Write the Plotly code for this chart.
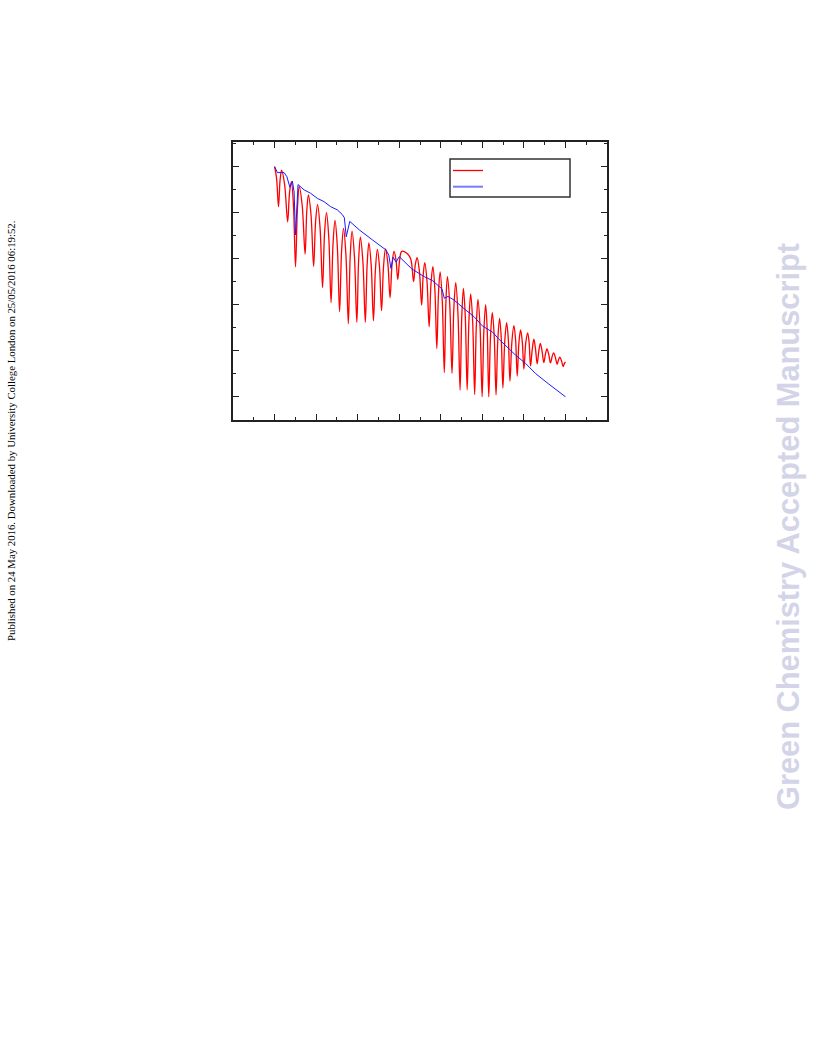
import plotly.graph_objects as go

# ---- data ----
red_x = [0, 0.095, 0.19, 0.265, 0.34, 0.485, 0.63, 0.72, 0.81, 0.91, 1.01, 1.10, 1.19, 1.33,
         1.47, 1.55, 1.63, 1.755, 1.88, 1.975, 2.07, 2.19, 2.31, 2.405, 2.5, 2.61, 2.72, 2.815,
         2.91, 3.02, 3.13, 3.225, 3.32, 3.435, 3.55, 3.64, 3.73, 3.845, 3.96, 4.045, 4.13, 4.25,
         4.37, 4.455, 4.54, 4.65, 4.76, 4.855, 4.95, 5.05, 5.15, 5.245, 5.34, 5.45, 5.56, 5.655,
         5.75, 5.84, 5.93, 6.025, 6.12, 6.35, 6.55, 6.69, 6.775, 6.86, 6.97, 7.08, 7.155, 7.23,
         7.335, 7.44, 7.53, 7.62, 7.715, 7.81, 7.89, 7.97, 8.07, 8.17, 8.245, 8.32, 8.43, 8.54,
         8.63, 8.72, 8.825, 8.93, 9.01, 9.09, 9.18, 9.27, 9.355, 9.44, 9.535, 9.63, 9.71, 9.79,
         9.89, 9.99, 10.075, 10.16, 10.235, 10.31, 10.395, 10.48, 10.57, 10.66, 10.745, 10.83,
         10.91, 10.99, 11.08, 11.17, 11.25, 11.33, 11.425, 11.52, 11.6, 11.68, 11.76, 11.84,
         11.92, 12.0, 12.09, 12.18, 12.25, 12.32, 12.4, 12.48, 12.56, 12.64, 12.715, 12.79,
         12.875, 12.96, 13.035, 13.11, 13.195, 13.28, 13.355, 13.43, 13.515, 13.6, 13.665,
         13.73, 13.81, 13.89, 13.945, 14.0]
red_y = [10, 9.51, 8.26, 9.40, 9.85, 9.22, 7.6, 8.86, 9.35, 8.31, 5.65, 8.16, 9.13, 8.31,
         6.2, 8.05, 8.77, 7.90, 5.66, 7.60, 8.35, 7.34, 4.75, 7.09, 8.0, 6.91, 4.09, 6.66,
         7.66, 6.55, 3.7, 6.31, 7.32, 6.16, 3.17, 6.07, 7.2, 6.09, 3.24, 5.90, 6.94, 5.90,
         3.24, 5.72, 6.69, 5.74, 3.3, 5.53, 6.4, 5.66, 3.74, 5.67, 6.42, 5.83, 4.3, 5.75,
         6.32, 5.98, 5.1, 5.98, 6.32, 6.25, 6.0, 5.0, 5.75, 6.04, 5.46, 3.97, 5.31, 5.83,
         5.05, 3.04, 4.92, 5.65, 4.66, 2.1, 4.50, 5.43, 4.20, 1.05, 4.05, 5.22, 4.04, 1.02,
         3.86, 4.96, 3.65, 0.29, 3.47, 4.71, 3.48, 0.3, 3.30, 4.47, 3.25, 0.1, 3.07, 4.23,
         3.05, 0.0, 2.88, 4.0, 2.88, 0.0, 2.63, 3.65, 2.65, 0.08, 2.48, 3.41,
         2.56, 0.38, 2.42, 3.22, 2.51, 0.68, 2.42, 3.09, 2.48, 0.9, 2.34, 2.9,
         2.42, 1.2, 2.34, 2.78, 2.38, 1.34, 2.04, 2.5, 2.07, 1.43, 1.96, 2.32,
         1.98, 1.48, 1.84, 2.08, 1.84, 1.47, 1.73, 1.91, 1.71, 1.41, 1.60,
         1.72, 1.56, 1.31, 1.44, 1.52]

blue_x = [0, 0.14, 0.46, 0.59, 0.74, 0.86, 0.94, 1.01, 1.13, 1.42, 1.74, 2.06, 2.38, 2.7, 3.02,
          3.26, 3.36, 3.45, 3.62, 4.08, 4.72, 5.36, 5.5, 5.6, 5.71, 5.85, 6.0, 6.32, 6.6, 7.2,
          7.6, 8.06, 8.17, 8.35, 8.64, 9.2, 9.6, 10.0, 10.5, 10.8, 11.2, 11.6, 12.08, 12.56,
          13.2, 14.0]
blue_y = [10, 9.74, 9.74, 9.57, 9.1, 9.37, 8.9, 7.03, 9.22, 8.99, 8.84, 8.62, 8.48, 8.26, 8.12,
          7.92, 7.78, 6.95, 7.62, 7.25, 6.81, 6.38, 6.15, 5.58, 6.06, 5.85, 6.09, 5.8, 5.56, 5.22,
          5.05, 4.68, 4.28, 4.36, 4.2, 3.77, 3.48, 3.08, 2.8, 2.5, 2.15, 1.81, 1.45, 1.01,
          0.55, 0.0]

series_names = ["", ""]

side_text = "Published on 24 May 2016. Downloaded by University College London on 25/05/2016 06:19:52."
watermark = "Green Chemistry Accepted Manuscript"

# ---- layout geometry (page body margin removed via post_script) ----
W, H = 816, 1056
L, R, T, B = 233, 607, 142, 420


def px2paper_x(px):
    return (px - L) / (R - L)


def px2paper_y(py):
    return (B - py) / (B - T)


fig = go.Figure()
fig.add_trace(go.Scatter(x=red_x, y=red_y, mode="lines", name=series_names[0], showlegend=False,
                         line=dict(color="#ff0000", width=1.3, shape="spline", smoothing=1.0)))
fig.add_trace(go.Scatter(x=blue_x, y=blue_y, mode="lines", name=series_names[1], showlegend=False,
                         line=dict(color="#1a1aff", width=1.0)))

axis_common = dict(showline=True, linecolor="#222222", linewidth=1.5, mirror="ticks",
                   ticks="inside", ticklen=6, tickwidth=1, tickcolor="#222222",
                   showticklabels=False, showgrid=False, zeroline=False)

fig.update_xaxes(range=[-2, 16], tick0=0, dtick=2,
                 minor=dict(dtick=1, ticks="inside", ticklen=3, tickcolor="#222222", showgrid=False),
                 **axis_common)
fig.update_yaxes(range=[-1.01, 11.07], tick0=0, dtick=2,
                 minor=dict(dtick=1, ticks="inside", ticklen=3, tickcolor="#222222", showgrid=False),
                 **axis_common)

# legend box drawn as shapes (entries carry no text in the reference)
legend_shapes = [
    dict(type="rect", xref="paper", yref="paper",
         x0=px2paper_x(450), x1=px2paper_x(570), y0=px2paper_y(197), y1=px2paper_y(159),
         line=dict(color="#333333", width=1.5), fillcolor="white", layer="above"),
    dict(type="line", xref="paper", yref="paper",
         x0=px2paper_x(453), x1=px2paper_x(483), y0=px2paper_y(170.5), y1=px2paper_y(170.5),
         line=dict(color="#ff0000", width=1.3), layer="above"),
    dict(type="line", xref="paper", yref="paper",
         x0=px2paper_x(453), x1=px2paper_x(483), y0=px2paper_y(186.7), y1=px2paper_y(186.7),
         line=dict(color="#7a7aff", width=2), layer="above"),
]

fig.update_layout(
    width=W, height=H, autosize=False,
    margin=dict(l=L, r=W - R, t=T, b=H - B, pad=0),
    plot_bgcolor="white", paper_bgcolor="white",
    showlegend=False,
    shapes=legend_shapes,
    annotations=[
        dict(text=side_text, xref="paper", yref="paper",
             x=px2paper_x(11), y=px2paper_y(431), xanchor="center", yanchor="middle",
             textangle=-90, showarrow=False,
             font=dict(family="Liberation Serif", size=10.8, color="black")),
        dict(text="<b>" + watermark + "</b>", xref="paper", yref="paper",
             x=px2paper_x(788), y=px2paper_y(527), xanchor="center", yanchor="middle",
             textangle=-90, showarrow=False,
             font=dict(family="Liberation Sans", size=30.8, color="#d4d4e8")),
    ],
)

fig.write_html("out.html", config={"displayModeBar": False},
               post_script="document.body.style.margin='0px';document.body.style.overflow='hidden';")
